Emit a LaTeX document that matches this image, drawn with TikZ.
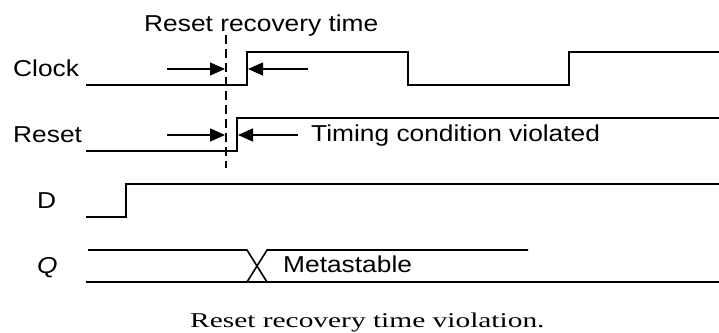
\documentclass[tikz,border=0pt]{standalone}
\usepackage{fontspec}
\usetikzlibrary{arrows.meta}
\newfontfamily\labfont[FakeStretch=1.145]{Liberation Sans}
\newfontfamily\capfont[FakeStretch=1.4]{Liberation Serif}
\tikzset{
  wave/.style={line width=1.6pt, line join=miter},
  dim/.style={line width=1.3pt, -{Triangle[length=15pt,width=13pt]}},
  lab/.style={anchor=base west, inner sep=0pt, font=\labfont\fontsize{23}{26}\selectfont},
  captext/.style={anchor=base west, inner sep=0pt, font=\capfont\fontsize{21}{25}\selectfont},
  guide/.style={line width=1.3pt, dash pattern=on 9pt off 5pt}
}
\begin{document}
\begin{tikzpicture}[x=1pt, y=-1pt]
  \useasboundingbox (0,0) rectangle (719,332);

  % signal names
  \node[lab] (lclk) at (13,76) {Clock};
  \node[lab] (lrst) at (13,142) {Reset};
  \node[lab] (ld) at (37,208) {D};
  \node[lab] (lq) at (37,273) {\itshape Q};

  % annotations
  \node[lab] (trec) at (144,31) {Reset recovery time};
  \node[lab] (tviol) at (311,141) {Timing condition violated};
  \node[lab] (tmeta) at (283,272) {Metastable};
  \node[captext] (tcap) at (190,327) {Reset recovery time violation.};

  % clock waveform
  \draw[wave] (86,85) -- (247,85) -- (247,52) -- (408,52) -- (408,85)
              -- (569,85) -- (569,52) -- (719,52);

  % reset waveform
  \draw[wave] (86,151) -- (237,151) -- (237,118) -- (719,118);

  % data waveform
  \draw[wave] (86,217) -- (126,217) -- (126,184) -- (719,184);

  % output: bus with transition into metastable state
  \draw[wave] (88,250) -- (247,250) -- (267,282);
  \draw[wave] (86,282) -- (247,282) -- (267,250) -- (528,250);
  \draw[wave] (247,282) -- (719,282);

  % recovery-time reference line
  \coordinate (gtop) at (226,35);
  \coordinate (gbot) at (226,168);
  \draw[guide] (gtop) -- (gbot);

  % dimension arrows
  \coordinate (ca1) at (167,69);  \coordinate (ca1t) at (225,69);
  \coordinate (ca2) at (308,69);  \coordinate (ca2t) at (248,69);
  \coordinate (ra1) at (167,135); \coordinate (ra1t) at (225,135);
  \coordinate (ra2) at (298,135); \coordinate (ra2t) at (238,135);
  \draw[dim] (ca1) -- (ca1t);
  \draw[dim] (ca2) -- (ca2t);
  \draw[dim] (ra1) -- (ra1t);
  \draw[dim] (ra2) -- (ra2t);
\end{tikzpicture}
\end{document}
